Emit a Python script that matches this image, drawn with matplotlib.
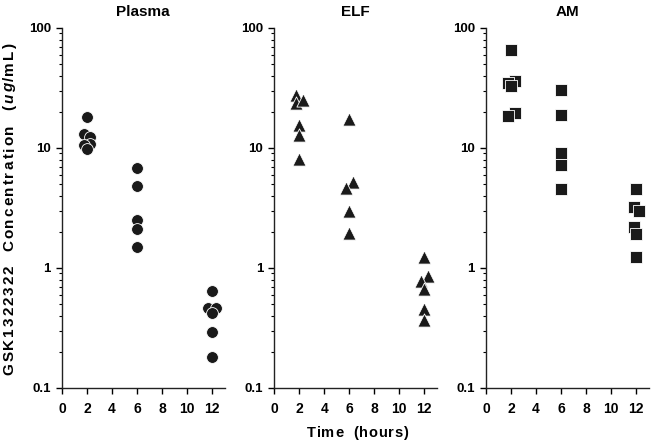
import matplotlib
matplotlib.use("Agg")
import matplotlib.pyplot as plt
from matplotlib.ticker import FixedLocator, NullFormatter, FixedFormatter
from matplotlib.font_manager import FontProperties, findfont, get_font
from matplotlib.ft2font import LoadFlags

plt.rcParams['font.family'] = ['Liberation Sans', 'DejaVu Sans']

panels = ["Plasma", "ELF", "AM"]
markers = ["o", "^", "s"]

plasma_x = [2, 1.75, 2.25, 2.25, 1.75, 2,
            6, 6, 6, 6, 6,
            12, 11.7, 12.3, 12, 12, 12]
plasma_y = [18.1, 13.0, 12.4, 10.9, 10.6, 9.9,
            6.77, 4.85, 2.50, 2.10, 1.51,
            0.647, 0.46, 0.46, 0.424, 0.294, 0.18]

elf_x = [1.75, 1.75, 2.3, 2.0, 2.0, 2.0,
         6.0, 6.3, 5.7, 6.0, 6.0,
         12.0, 12.3, 11.7, 12.0, 12.0, 12.0]
elf_y = [27.7, 23.6, 25.1, 15.5, 12.8, 8.05,
         17.5, 5.18, 4.61, 3.0, 1.95,
         1.23, 0.857, 0.78, 0.664, 0.453, 0.369]

am_x = [2.0, 2.3, 1.75, 2.0, 2.3, 1.75,
        6, 6, 6, 6, 6,
        12.0, 11.8, 12.2, 11.8, 12.0, 12.0]
am_y = [65.6, 36.2, 35.0, 33.0, 19.7, 18.6,
        30.4, 18.7, 9.08, 7.17, 4.55,
        4.53, 3.24, 2.99, 2.21, 1.92, 1.23]

xs = [plasma_x, elf_x, am_x]
ys = [plasma_y, elf_y, am_y]

x_ticks = [0, 2, 4, 6, 8, 10, 12]
y_ticks = [0.1, 1, 10, 100]
y_ticklabels = ["0.1", "1", "10", "100"]

# label pieces: (text, italic?)
ylabel_parts = [("GSK1322322  Concentration  (", False), ("ug", True), ("/mL)", False)]
xlabel_parts = [("Time  (hours)", False)]

W, H = 651, 441
DPI = 100
fig = plt.figure(figsize=(W / DPI, H / DPI), dpi=DPI)
lefts = [62 / W, 274.3 / W, 486 / W]
w = 162.5 / W
b = 1 - 388 / H
h = 360 / H

msizes = [8.5, 9.5, 8.0]


def fprops(italic, size):
    return FontProperties(family='Liberation Sans', weight='bold',
                          style='italic' if italic else 'normal', size=size)


def advances(parts, size):
    out = []
    for txt, it in parts:
        fp = fprops(it, size)
        font = get_font(findfont(fp))
        font.set_size(size, 72)
        for c in txt:
            g = font.load_char(ord(c), flags=LoadFlags.NO_HINTING)
            adv = g.linearHoriAdvance / 65536.0 * DPI / 72.0
            out.append((c, it, adv))
    return out


def tracked_text(parts, size, start, end, base, vertical):
    chars = advances(parts, size)
    natural = sum(a for _, _, a in chars)
    total = abs(end - start)
    track = (total - natural) / (len(chars) - 1)
    pos = start
    for c, it, adv in chars:
        if c != ' ':
            if vertical:
                fig.text(base / W, 1 - pos / H, c, rotation=90, rotation_mode='anchor',
                         ha='left', va='baseline', fontproperties=fprops(it, size))
            else:
                fig.text(pos / W, 1 - base / H, c, ha='left', va='baseline',
                         fontproperties=fprops(it, size))
        if vertical:
            pos -= adv + track
        else:
            pos += adv + track


for i, name in enumerate(panels):
    ax = fig.add_axes([lefts[i], b, w, h])
    ax.set_yscale('log')
    ax.set_ylim(0.1, 100)
    ax.set_xlim(0, 13)
    ax.scatter(xs[i], ys[i], marker=markers[i], s=msizes[i] ** 2,
               facecolor='#1a1a1a', edgecolor='white', linewidths=0.6,
               zorder=3, clip_on=False)
    for s in ['top', 'right']:
        ax.spines[s].set_visible(False)
    for s in ['left', 'bottom']:
        ax.spines[s].set_linewidth(1.0)
        ax.spines[s].set_color('#222222')
    ax.xaxis.set_major_locator(FixedLocator(x_ticks))
    ax.set_xticklabels([str(t) for t in x_ticks])
    ax.yaxis.set_major_locator(FixedLocator(y_ticks))
    ax.yaxis.set_major_formatter(FixedFormatter(y_ticklabels))
    minors = [m * d for d in [0.1, 1, 10] for m in range(2, 10)]
    ax.yaxis.set_minor_locator(FixedLocator(minors))
    ax.yaxis.set_minor_formatter(NullFormatter())
    ax.tick_params(axis='y', which='major', length=4, width=1, labelsize=9.5, pad=4)
    ax.tick_params(axis='y', which='minor', length=2.5, width=0.8)
    ax.tick_params(axis='x', which='major', length=4, width=1, labelsize=10, pad=6)
    for lbl in ax.get_yticklabels():
        lbl.set_fontweight('bold')
    for lbl in ax.get_xticklabels():
        lbl.set_fontweight('bold')
    ax.set_title(name, fontsize=11, fontweight='bold', pad=9)

# y label: vertical, from bottom (y=375px) up to top (y=43px), baseline at x=13.5px
tracked_text(ylabel_parts, 11, 375, 43, 13.5, vertical=True)
# x label: horizontal, from x=307 to 408, baseline y=437
tracked_text(xlabel_parts, 10.5, 307, 408, 437, vertical=False)

fig.savefig("out.png", dpi=DPI)
